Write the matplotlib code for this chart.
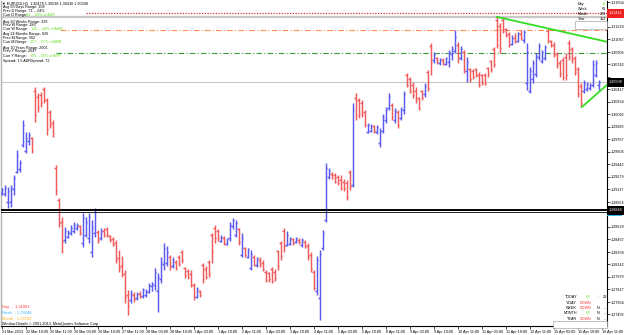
import matplotlib
matplotlib.use("Agg")
import matplotlib.pyplot as plt
from matplotlib.collections import LineCollection
from matplotlib.patches import Rectangle

# ---------------- data (EURUSD, price bars, left to right) ----------------
highs = [1.2914,1.2917,1.2915,1.2918,1.2930,1.2963,1.2950,1.3002,1.2986,1.2986,
         1.2980,1.3045,1.3037,1.3038,1.3045,1.3031,1.3015,1.3002,1.2944,1.2900,
         1.2876,1.2863,1.2859,1.2865,1.2869,1.2868,1.2866,1.2881,1.2876,1.2881,
         1.2872,1.2888,1.2859,1.2862,1.2862,1.2863,1.2853,1.2850,1.2846,1.2833,
         1.2825,1.2807,1.2781,1.2781,1.2778,1.2778,1.2780,1.2784,1.2782,1.2790,
         1.2792,1.2810,1.2803,1.2824,1.2842,1.2838,1.2826,1.2824,1.2820,1.2826,
         1.2833,1.2811,1.2808,1.2807,1.2790,1.2785,1.2781,1.2816,1.2812,1.2820,
         1.2855,1.2866,1.2860,1.2853,1.2851,1.2849,1.2870,1.2875,1.2872,1.2862,
         1.2855,1.2837,1.2836,1.2833,1.2826,1.2824,1.2824,1.2820,1.2807,1.2805,
         1.2811,1.2808,1.2833,1.2845,1.2862,1.2858,1.2850,1.2849,1.2850,1.2848,
         1.2849,1.2846,1.2842,1.2830,1.2807,1.2825,1.2833,1.2859,1.2946,1.2940,
         1.2934,1.2933,1.2930,1.2930,1.2925,1.2924,1.2937,1.3024,1.3037,1.3030,
         1.3028,1.3015,1.2998,1.2997,1.2996,1.2995,1.2992,1.3010,1.3019,1.3037,
         1.3024,1.3018,1.3015,1.3019,1.3040,1.3063,1.3058,1.3052,1.3045,1.3032,
         1.3041,1.3050,1.3067,1.3102,1.3090,1.3084,1.3083,1.3082,1.3084,1.3093,
         1.3098,1.3119,1.3103,1.3098,1.3093,1.3084,1.3070,1.3068,1.3070,1.3064,
         1.3062,1.3063,1.3071,1.3080,1.3097,1.3136,1.3128,1.3136,1.3122,1.3116,
         1.3112,1.3115,1.3117,1.3119,1.3119,1.3102,1.3071,1.3080,1.3089,1.3102,
         1.3093,1.3100,1.3122,1.3106,1.3103,1.3090,1.3080,1.3084,1.3089,1.3106,
         1.3097,1.3085,1.3071,1.3050,1.3054,1.3052,1.3050,1.3080,1.3080,1.30538]
lows = [1.2905,1.2903,1.2888,1.2889,1.2905,1.2933,1.2934,1.2967,1.2959,1.2970,
        1.2959,1.3000,1.3012,1.3019,1.3024,1.2983,1.2992,1.2980,1.2905,1.2863,
        1.2829,1.2842,1.2848,1.2852,1.2855,1.2859,1.2852,1.2837,1.2850,1.2842,
        1.2824,1.2850,1.2842,1.2846,1.2850,1.2850,1.2844,1.2838,1.2816,1.2805,
        1.2798,1.2764,1.2749,1.2764,1.2766,1.2768,1.2770,1.2771,1.2772,1.2777,
        1.2780,1.2781,1.2752,1.2790,1.2807,1.2812,1.2807,1.2810,1.2807,1.2812,
        1.2816,1.2797,1.2795,1.2785,1.2768,1.2770,1.2772,1.2790,1.2795,1.2798,
        1.2816,1.2842,1.2845,1.2843,1.2840,1.2839,1.2845,1.2860,1.2850,1.2840,
        1.2824,1.2824,1.2822,1.2807,1.2812,1.2811,1.2811,1.2806,1.2791,1.2792,
        1.2790,1.2793,1.2807,1.2820,1.2830,1.2838,1.2839,1.2840,1.2842,1.2841,
        1.2837,1.2836,1.2820,1.2805,1.2781,1.2775,1.2742,1.2833,1.2870,1.2925,
        1.2925,1.2920,1.2918,1.2911,1.2910,1.2898,1.2911,1.2915,1.3002,1.3005,
        1.3006,1.2993,1.2985,1.2986,1.2985,1.2984,1.2967,1.2985,1.2998,1.3015,
        1.3002,1.2998,1.2992,1.3002,1.3010,1.3045,1.3037,1.3030,1.3024,1.3015,
        1.3028,1.3032,1.3040,1.3060,1.3076,1.3075,1.3074,1.3073,1.3074,1.3071,
        1.3080,1.3089,1.3076,1.3080,1.3063,1.3051,1.3051,1.3055,1.3058,1.3045,
        1.3048,1.3047,1.3058,1.3065,1.3071,1.3095,1.3089,1.3115,1.3110,1.3097,
        1.3099,1.3102,1.3104,1.3106,1.3102,1.3041,1.3037,1.3050,1.3058,1.3080,
        1.3076,1.3080,1.3102,1.3097,1.3084,1.3070,1.3058,1.3054,1.3054,1.3080,
        1.3076,1.3060,1.3032,1.3019,1.3037,1.3040,1.3041,1.3045,1.3058,1.30410]
opens = [1.2907,1.2906,1.2895,1.2895,1.2912,1.2935,1.2938,1.2970,1.2962,1.2975,
         1.2978,1.3040,1.3032,1.3034,1.3042,1.3028,1.3012,1.2998,1.2940,1.2898,
         1.2870,1.2846,1.2850,1.2855,1.2858,1.2861,1.2864,1.2842,1.2853,1.2848,
         1.2830,1.2855,1.2856,1.2848,1.2858,1.2860,1.2851,1.2847,1.2842,1.2822,
         1.2812,1.2802,1.2775,1.2768,1.2775,1.2770,1.2776,1.2773,1.2775,1.2779,
         1.2786,1.2788,1.2780,1.2795,1.2815,1.2816,1.2824,1.2812,1.2818,1.2824,
         1.2830,1.2810,1.2806,1.2802,1.2788,1.2772,1.2780,1.2814,1.2808,1.2818,
         1.2852,1.2862,1.2858,1.2845,1.2848,1.2841,1.2848,1.2864,1.2853,1.2860,
         1.2826,1.2835,1.2824,1.2810,1.2824,1.2813,1.2820,1.2816,1.2805,1.2803,
         1.2808,1.2805,1.2832,1.2842,1.2858,1.2840,1.2841,1.2847,1.2843,1.2846,
         1.2839,1.2844,1.2838,1.2826,1.2805,1.2780,1.2770,1.2835,1.2872,1.2928,
         1.2932,1.2930,1.2928,1.2924,1.2922,1.2920,1.2935,1.2918,1.3030,1.3028,
         1.3024,1.3012,1.2987,1.2988,1.2994,1.2986,1.2972,1.2988,1.3002,1.3017,
         1.3022,1.3002,1.3012,1.3004,1.3015,1.3060,1.3055,1.3048,1.3040,1.3030,
         1.3040,1.3036,1.3064,1.3098,1.3080,1.3083,1.3076,1.3080,1.3075,1.3078,
         1.3088,1.3092,1.3100,1.3082,1.3090,1.3066,1.3068,1.3066,1.3068,1.3060,
         1.3060,1.3061,1.3069,1.3079,1.3094,1.3132,1.3124,1.3132,1.3120,1.3114,
         1.3101,1.3108,1.3105,1.3114,1.3106,1.3050,1.3040,1.3055,1.3062,1.3084,
         1.3079,1.3082,1.3118,1.3105,1.3100,1.3088,1.3076,1.3080,1.3084,1.3102,
         1.3094,1.3082,1.3068,1.3046,1.3040,1.3042,1.3043,1.3048,1.3060,1.30478]
closes = [1.2912,1.2914,1.2910,1.2914,1.2926,1.2955,1.2946,1.2995,1.2978,1.2982,
          1.2962,1.3008,1.3018,1.3024,1.3028,1.2990,1.2996,1.2984,1.2910,1.2868,
          1.2845,1.2858,1.2856,1.2862,1.2866,1.2866,1.2855,1.2875,1.2870,1.2876,
          1.2862,1.2882,1.2846,1.2858,1.2852,1.2852,1.2846,1.2840,1.2820,1.2810,
          1.2802,1.2772,1.2760,1.2776,1.2769,1.2776,1.2772,1.2781,1.2780,1.2787,
          1.2790,1.2805,1.2798,1.2818,1.2835,1.2830,1.2812,1.2820,1.2810,1.2815,
          1.2820,1.2800,1.2798,1.2788,1.2772,1.2782,1.2775,1.2795,1.2798,1.2802,
          1.2830,1.2848,1.2848,1.2850,1.2842,1.2847,1.2866,1.2872,1.2868,1.2844,
          1.2848,1.2826,1.2834,1.2828,1.2814,1.2822,1.2813,1.2808,1.2794,1.2795,
          1.2793,1.2796,1.2812,1.2825,1.2838,1.2852,1.2848,1.2842,1.2848,1.2843,
          1.2846,1.2838,1.2824,1.2808,1.2784,1.2820,1.2828,1.2855,1.2940,1.2936,
          1.2927,1.2922,1.2920,1.2914,1.2913,1.2902,1.2916,1.3015,1.3008,1.3010,
          1.3010,1.2996,1.2995,1.2994,1.2988,1.2993,1.2988,1.3006,1.3015,1.3032,
          1.3006,1.3014,1.2996,1.3016,1.3036,1.3048,1.3040,1.3034,1.3028,1.3018,
          1.3030,1.3046,1.3044,1.3078,1.3086,1.3077,1.3081,1.3075,1.3082,1.3090,
          1.3094,1.3110,1.3082,1.3094,1.3068,1.3078,1.3055,1.3058,1.3060,1.3048,
          1.3050,1.3049,1.3062,1.3068,1.3075,1.3100,1.3095,1.3118,1.3112,1.3100,
          1.3109,1.3104,1.3115,1.3108,1.3116,1.3090,1.3066,1.3076,1.3085,1.3098,
          1.3090,1.3097,1.3105,1.3099,1.3087,1.3073,1.3062,1.3058,1.3060,1.3084,
          1.3080,1.3064,1.3036,1.3024,1.3050,1.3049,1.3048,1.3075,1.3076,1.30508]

x_tick_bars = [0, 8, 16, 24, 32, 40, 48, 56, 64, 72, 80, 88, 96, 104, 112, 120,
               128, 136, 144, 152, 160, 168, 176, 184, 192, 200]
x_tick_labels = ["21 Mar 2013", "22 Mar 19:00", "25 Mar 11:00", "26 Mar 03:00",
                 "26 Mar 19:00", "27 Mar 11:00", "28 Mar 03:00", "28 Mar 19:00",
                 "1 Apr 03:00", "1 Apr 19:00", "2 Apr 11:00", "3 Apr 03:00",
                 "3 Apr 19:00", "4 Apr 11:00", "5 Apr 03:00", "5 Apr 19:00",
                 "8 Apr 11:00", "9 Apr 03:00", "9 Apr 19:00", "10 Apr 11:00",
                 "11 Apr 03:00", "11 Apr 19:00", "12 Apr 11:00", "15 Apr 03:00",
                 "15 Apr 19:00", "16 Apr 11:00"]
y_tick_values = [1.31554, 1.31392, 1.31229, 1.31067, 1.30904, 1.30742, 1.30579,
                 1.30417, 1.30254, 1.30092, 1.29929, 1.29767, 1.29604, 1.29442,
                 1.29279, 1.29117, 1.28954, 1.28792, 1.28629, 1.28467, 1.28304,
                 1.28142, 1.27979, 1.27817, 1.27654, 1.27492]

# horizontal levels and trend lines
level_red = 1.31411
level_high = 1.31359
level_orange = 1.31190
level_green = 1.30891
level_black = 1.28848
level_black2 = 1.28820
trend_upper = [(165, 1.31360), (202, 1.31034)]
trend_lower = [(193.3, 1.30189), (202, 1.30488)]

# ---------------- figure ----------------
W, H = 625, 335
YMIN, YMAX = 1.27342, 1.31567
fig = plt.figure(figsize=(W / 100, H / 100), dpi=100)
fig.patch.set_facecolor("white")
FONT = ["Liberation Sans", "DejaVu Sans"]
plt.rcParams["font.family"] = FONT

ax = fig.add_axes([1 / W, 9 / H, 606 / W, 325 / H])
ax.set_xlim(-0.333, 201.67)
ax.set_ylim(YMIN, YMAX)

BLUE = "#5a5af0"
RED = "#f05a5a"
segs, cols = [], []
for i in range(len(highs)):
    c = BLUE if closes[i] >= opens[i] else RED
    segs += [[(i, lows[i]), (i, highs[i])],
             [(i - 0.5, opens[i]), (i, opens[i])],
             [(i, closes[i]), (i + 0.5, closes[i])]]
    cols += [c, c, c]
ax.add_collection(LineCollection(segs, colors=cols, linewidths=1.05, zorder=3))

def hx(px):
    return (px - 1) / 606

ax.axhline(level_red, xmin=hx(86), xmax=1, color="#e83030", lw=0.9, ls=(0, (1, 1.2)), zorder=2)
ax.axhline(level_high, color="#c8c8c8", lw=1.6, zorder=1)
ax.axhline(level_orange, xmin=hx(60), xmax=1, color="#ff8c50", lw=0.8, ls=(0, (5, 2, 1, 2)), zorder=2)
ax.axhline(level_green, xmin=hx(56), xmax=1, color="#3c9a3c", lw=0.8, ls=(0, (5, 2, 1, 2)), zorder=2)
ax.axhline(closes[-1], color="#c8c8c8", lw=0.8, zorder=1)
ax.axhline(level_black, color="black", lw=1.4, zorder=4)
ax.axhline(level_black2, color="black", lw=0.6, zorder=4)
for (x0, y0), (x1, y1) in [trend_upper, trend_lower]:
    ax.plot([x0, x1], [y0, y1], color="#33dd22", lw=1.3, zorder=5, clip_on=True)

# axes styling
ax.spines["top"].set_visible(False)
ax.spines["left"].set_color("#b0b0b0")
ax.spines["left"].set_linewidth(1.0)
ax.spines["bottom"].set_linewidth(0.8)
ax.spines["right"].set_linewidth(0.8)
ax.set_xticks(x_tick_bars)
ax.set_xticklabels(x_tick_labels, ha="left", fontsize=2.7)
ax.tick_params(axis="x", length=2, width=0.5, pad=0.8)

def frac_y(p):
    """figure fraction (from bottom) of a price"""
    return (9 + (p - YMIN) / (YMAX - YMIN) * 325) / H

boxed_prices = [level_red, closes[-1], level_black]
ax.yaxis.tick_right()
ax.set_yticks(y_tick_values)
ylabels = []
for v in y_tick_values:
    hidden = any(abs(frac_y(v) - frac_y(b)) * H < 6.5 for b in boxed_prices)
    ylabels.append("" if hidden else f"{v:.5f}")
ax.set_yticklabels(ylabels, fontsize=2.7)
ax.tick_params(axis="y", length=2, width=0.5, pad=0.8)

def T(x, y, s, color="black", size=2.7, ha="left", **kw):
    fig.text(x / W, 1 - y / H, s, color=color, fontsize=size, ha=ha, va="center",
             family=FONT, **kw)

def box(x0, y0, x1, y1, fc, ec=None, lw=0.0, z=10):
    fig.add_artist(Rectangle((x0 / W, 1 - y1 / H), (x1 - x0) / W, (y1 - y0) / H,
                             transform=fig.transFigure, facecolor=fc,
                             edgecolor=ec if ec else fc, linewidth=lw, zorder=z))

# price boxes on the right axis
for p, fc, tc in [(level_red, "#ee2222", "white"), (closes[-1], "black", "white"),
                  (level_black, "black", "white")]:
    yc = (1 - frac_y(p)) * H
    box(607, yc - 4.5, 624, yc + 4.5, fc)
    fig.text(609 / W, frac_y(p), f"{p:.5f}", color=tc, fontsize=2.7, va="center",
             ha="left", zorder=11)
ycy = (1 - frac_y(level_black)) * H + 4.6
box(607, ycy, 622, ycy + 1.3, "#33bbee")

# top-left info block
green = "#66dd22"
T(2, 3.3, f"▼ EURUSD,H1  {opens[-1]:.5f} {highs[-1]:.5f} {lows[-1]:.5f} {closes[-1]:.5f}")
T(3, 7.3, "Avg 60 Days Range: 108")
T(3, 11, "Prev D Range: 71 -- 24%")
T(3, 15, "Curr D Range:"); T(26, 15, "64 -- 60% of ADR", green)
T(3, 21.7, "Avg 20 Weeks Range: 229")
T(3, 25, "Prev W Range: 186")
T(3, 29.3, "Curr W Range:"); T(31, 29.3, "142 -- 44% of AWR", green)
T(3, 34.3, "Avg 24 Months Range: 626")
T(3, 38, "Prev M Range: 362")
T(3, 42.3, "Curr M Range:"); T(30, 42.3, "357 -- 57% of AMR", green)
T(3, 47.7, "Avg 10 Years Range: 2001")
T(3, 51.2, "Prev Y Range: 2047")
T(3, 56, "Curr Y Range:"); T(30, 56, "395 -- 20% of AYR", green)
T(3, 61, "Spread: 1.5 ADRSpread: 72")

# top-right info block
for y, lab, val, vc in [(4, "Day", "16", green), (9, "Week", "61", "black"),
                        (14, "Month", "289", "black"), (19, "Year", "152", "black")]:
    T(578, y, lab)
    T(606, y, val, vc, ha="right")
box(575, 21, 607, 28.5, "white", ec="#909090", lw=0.4, z=9)
T(591, 24.8, "Dist. to Open", ha="center")

# bottom-left texts
T(2, 307, "Day   - 1.31063", "#ff3333", size=2.9)
T(2, 313, "Week  - 1.28848", "#33bbff", size=2.9)
T(2, 319, "Month - 1.28703", "#ffaa22", size=2.9)
T(2, 324, "Window Details © 2001-2013, MetaQuotes Software Corp.")

# bottom-right status table
rows = [(297, "TODAY", "UP", green, "↑", "21"),
        (302.5, "Y-DAY", "DOWN", "#ff3333", "", ""),
        (308, "WEEK", "DOWN", "#ff3333", "N", "--"),
        (313.5, "MONTH", "UP", green, "N", "--"),
        (319, "YEAR", "DOWN", "#ff3333", "N", "--")]
for y, lab, st, sc, a, b in rows:
    T(577, y, lab, ha="right")
    T(591, y, st, sc, ha="right")
    T(598, y, a, green if a == "↑" else "black", ha="center")
    T(605, y, b, ha="center")
box(553, 320.5, 607, 328, "white", ec="#909090", lw=0.4, z=9)
T(556, 324.3, "Main Moves")
T(604, 324.3, "16.4 5L", ha="right")

fig.savefig("out.png", dpi=100)
